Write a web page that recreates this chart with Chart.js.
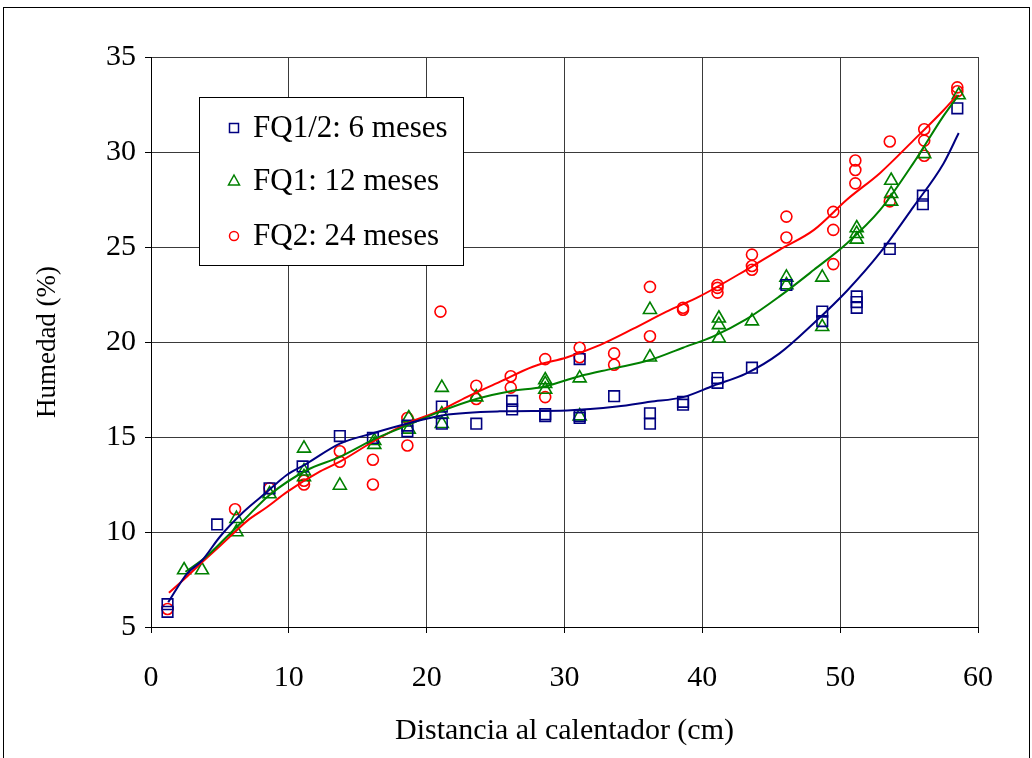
<!DOCTYPE html>
<html>
<head>
<meta charset="utf-8">
<script src="https://cdn.jsdelivr.net/npm/chart.js@4.4.1/dist/chart.umd.min.js"></script>
<style>
  html, body { margin: 0; padding: 0; background: #ffffff; }
  #wrap { width: 1032px; height: 758px; position: relative; }
</style>
</head>
<body>
<div id="wrap"><canvas id="chart" width="1032" height="758"></canvas></div>
<script>
// Humedad medida frente a la distancia al calentador, tres edades de la probeta.
const seriesNames = ['FQ1/2: 6 meses', 'FQ1: 12 meses', 'FQ2: 24 meses'];

// FQ1/2 (6 meses)
const fq12X = [1.2,1.2,4.8,8.6,11.0,13.7,16.1,18.6,18.6,21.1,21.1,23.6,26.2,26.2,28.6,28.6,31.1,31.1,31.1,33.6,36.2,36.2,38.6,38.6,41.1,41.1,43.6,46.1,48.7,48.7,51.2,51.2,51.2,53.6,56.0,56.0,58.5];
const fq12Y = [6.2,5.8,10.4,12.3,13.45,15.05,14.95,15.6,15.3,16.6,15.7,15.7,16.9,16.45,16.2,16.1,19.1,16.1,16.0,17.15,16.25,15.7,16.85,16.7,18.1,17.85,18.65,23.0,21.6,21.1,22.4,22.1,21.8,24.9,27.7,27.25,32.3];

// FQ1 (12 meses)
const fq1X = [2.4,3.7,6.2,6.2,8.6,11.1,11.1,11.1,13.7,16.2,16.2,18.7,18.7,21.1,21.1,21.1,23.6,28.6,28.6,28.6,31.1,31.1,36.2,36.2,41.2,41.2,41.2,43.6,46.1,46.1,48.7,48.7,51.2,51.2,51.2,53.7,53.7,53.7,56.1,58.6];
const fq1Y = [8.0,8.0,10.0,10.7,12.0,14.4,12.9,13.2,12.45,14.8,14.6,16.0,15.4,17.6,16.2,15.7,17.1,18.0,17.8,17.5,18.1,16.1,21.7,19.2,21.25,20.9,20.2,21.1,23.4,23.0,23.4,20.8,26.0,25.7,25.4,28.5,27.8,27.4,29.9,33.0];

// FQ2 (24 meses)
const fq2X = [1.2,6.1,8.6,11.1,11.1,13.7,13.7,16.1,16.1,18.6,18.6,21.0,23.6,23.6,26.1,26.1,28.6,28.6,31.1,31.1,33.6,33.6,36.2,36.2,38.6,38.6,41.1,41.1,41.1,43.6,43.6,43.6,46.1,46.1,49.5,49.5,49.5,51.1,51.1,51.1,53.6,53.6,56.1,56.1,56.1,58.5,58.5];
const fq2Y = [5.95,11.2,12.3,12.7,12.5,14.25,13.7,13.8,12.5,16.0,14.55,21.6,17.7,17.0,18.2,17.6,19.1,17.1,19.7,19.2,19.4,18.8,22.9,20.3,21.8,21.7,23.0,22.85,22.6,24.6,24.0,23.8,26.6,25.5,26.85,25.9,24.1,29.55,29.05,28.35,30.55,27.4,31.2,30.6,29.8,33.4,33.2];

// Curvas de ajuste
const fit12X = [1.25,2.6,3.7,5.0,6.7,8.4,9.85,11.3,13.7,16.1,18.55,21.2,25.3,30.2,33.8,36.2,38.6,40.8,43.2,45.6,48.1,50.5,52.9,55.3,57.5,58.6];
const fit12Y = [6.3,7.8,8.5,9.75,11.05,12.1,13.0,13.6,14.65,15.2,15.7,16.15,16.35,16.4,16.6,16.85,17.1,17.7,18.35,19.4,21.0,22.7,24.7,27.1,29.4,31.0];
const fit1X = [2.5,4.0,5.5,6.7,8.6,11.3,13.7,16.1,18.55,21.2,23.6,26.0,28.5,31.1,33.5,36.2,38.6,40.8,43.2,45.6,48.1,50.5,52.9,55.3,57.5,58.6];
const fit1Y = [7.9,8.7,9.75,10.6,11.95,13.25,13.95,14.85,15.6,16.4,17.0,17.4,17.65,18.2,18.6,19.05,19.7,20.3,21.2,22.4,23.8,25.2,26.95,29.4,31.9,33.0];
const fit2X = [1.3,2.6,4.0,5.5,7.0,8.4,9.85,12.3,13.7,16.1,18.55,21.0,22.9,25.3,27.7,30.2,32.6,35.0,37.4,39.8,43.2,45.6,48.1,50.5,52.9,55.3,57.5,58.5];
const fit2Y = [6.8,7.65,8.6,9.6,10.6,11.3,12.1,13.2,13.7,14.75,15.7,16.4,17.1,17.9,18.7,19.2,19.85,20.7,21.6,22.4,23.8,24.85,25.9,27.5,28.9,30.6,32.2,33.0];

const xTicks = [0, 10, 20, 30, 40, 50, 60];
const yTicks = [5, 10, 15, 20, 25, 30, 35];

const colors = ['#000080', '#008000', '#ff0000'];
const styles = ['rect', 'triangle', 'circle'];
const radii = [7.5, 7.5, 5.5];

const FONT = 'Liberation Serif, "Times New Roman", serif';

function pts(xs, ys) { return xs.map((x, i) => ({ x: x, y: ys[i] })); }

function markerSet(i, xs, ys) {
  return {
    type: 'scatter',
    label: seriesNames[i],
    data: pts(xs, ys),
    pointStyle: styles[i],
    pointRadius: radii[i],
    pointHoverRadius: radii[i],
    borderColor: colors[i],
    backgroundColor: 'rgba(0,0,0,0)',
    pointBorderWidth: 1.6,
    showLine: false,
    order: 2
  };
}
function fitSet(i, xs, ys) {
  return {
    type: 'line',
    label: seriesNames[i] + ' ajuste',
    data: pts(xs, ys),
    borderColor: colors[i],
    borderWidth: 2,
    pointRadius: 0,
    fill: false,
    cubicInterpolationMode: 'monotone',
    order: 1
  };
}

// Marco exterior y fondo blanco
const framePlugin = {
  id: 'frame',
  beforeDraw(chart) {
    const ctx = chart.ctx;
    ctx.save();
    ctx.fillStyle = '#ffffff';
    ctx.fillRect(0, 0, chart.width, chart.height);
    ctx.strokeStyle = '#000000';
    ctx.lineWidth = 1;
    ctx.strokeRect(3.5, 7.5, 1026, 800);
    ctx.restore();
  }
};

// Leyenda dentro del área de trazado
const boxLegend = {
  id: 'boxLegend',
  afterDraw(chart) {
    const ctx = chart.ctx;
    const bx = 199.5, by = 97.5, bw = 264, bh = 168;
    ctx.save();
    ctx.fillStyle = '#ffffff';
    ctx.fillRect(bx, by, bw, bh);
    ctx.strokeStyle = '#000000';
    ctx.lineWidth = 1;
    ctx.strokeRect(bx, by, bw, bh);
    const rows = [128, 181, 236];
    ctx.font = '31px ' + FONT;
    ctx.textBaseline = 'middle';
    ctx.textAlign = 'left';
    rows.forEach((ry, i) => {
      const mx = 234;
      ctx.strokeStyle = colors[i];
      ctx.lineWidth = 1.5;
      ctx.beginPath();
      if (styles[i] === 'rect') {
        ctx.rect(mx - 4.5, ry - 4.5, 9, 9);
      } else if (styles[i] === 'triangle') {
        ctx.moveTo(mx, ry - 6);
        ctx.lineTo(mx + 5.5, ry + 4);
        ctx.lineTo(mx - 5.5, ry + 4);
        ctx.closePath();
      } else {
        ctx.arc(mx, ry, 4.5, 0, Math.PI * 2);
      }
      ctx.stroke();
      ctx.fillStyle = '#000000';
      ctx.fillText(seriesNames[i], 253, ry + 1);
    });
    ctx.restore();
  }
};

new Chart(document.getElementById('chart'), {
  type: 'scatter',
  data: {
    datasets: [
      markerSet(0, fq12X, fq12Y),
      markerSet(1, fq1X, fq1Y),
      markerSet(2, fq2X, fq2Y),
      fitSet(0, fit12X, fit12Y),
      fitSet(1, fit1X, fit1Y),
      fitSet(2, fit2X, fit2Y)
    ]
  },
  options: {
    responsive: false,
    animation: false,
    layout: { padding: { top: 57, right: 54, left: 0, bottom: 0 } },
    plugins: {
      legend: { display: false },
      tooltip: { enabled: false },
      title: { display: false }
    },
    scales: {
      x: {
        type: 'linear',
        min: 0, max: 60,
        afterFit(scale) { scale.height = 131; },
        afterBuildTicks(scale) { scale.ticks = xTicks.map(v => ({ value: v })); },
        ticks: { color: '#000', font: { family: FONT, size: 30 }, padding: 27, maxRotation: 0 },
        grid: { color: '#3a3a3a', lineWidth: 1, drawTicks: true, tickLength: 6, tickColor: '#000' },
        border: { display: true, color: '#000', width: 1 },
        title: { display: true, text: 'Distancia al calentador (cm)', color: '#000', font: { family: FONT, size: 30 }, padding: { top: 0, bottom: 9 } }
      },
      y: {
        type: 'linear',
        min: 5, max: 35,
        afterFit(scale) { scale.width = 151; },
        afterBuildTicks(scale) { scale.ticks = yTicks.map(v => ({ value: v })); },
        ticks: { color: '#000', font: { family: FONT, size: 30 }, padding: 9 },
        grid: { color: '#3a3a3a', lineWidth: 1, drawTicks: true, tickLength: 6, tickColor: '#000' },
        border: { display: true, color: '#000', width: 1 },
        title: { display: true, text: 'Humedad (%)', color: '#000', font: { family: FONT, size: 27 }, padding: { top: 32, bottom: 0 } }
      }
    }
  },
  plugins: [framePlugin, boxLegend]
});
</script>
</body>
</html>
